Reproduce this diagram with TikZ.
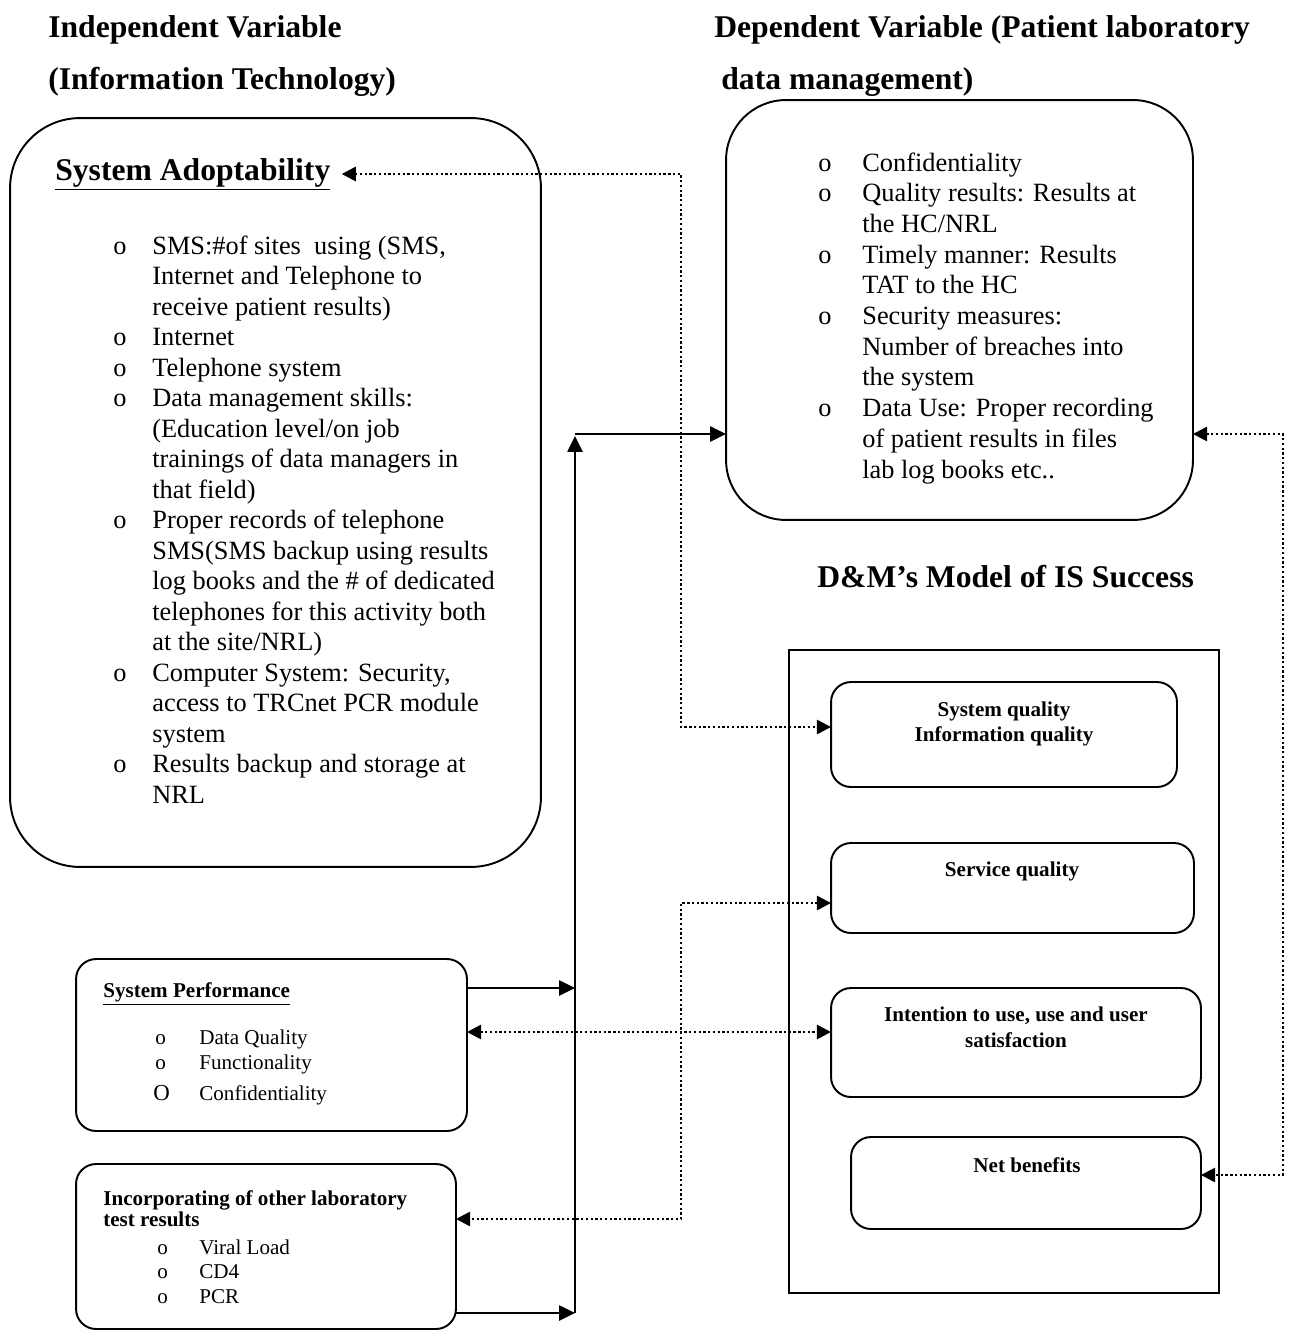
\documentclass[tikz,border=0pt]{standalone}
\usepackage{fontspec}
\setmainfont{Liberation Serif}
\usetikzlibrary{arrows.meta,calc}
\begin{document}
\begin{tikzpicture}[x=0.02cm,y=-0.02cm,
  box/.style={draw, line width=1.1pt, inner sep=0pt, outer sep=0pt},
  body/.style={font=\fontsize{15}{18}\selectfont, anchor=base west, inner sep=0pt},
  small/.style={font=\fontsize{12}{14}\selectfont, anchor=base west, inner sep=0pt},
  smallbold/.style={font=\bfseries\fontsize{12}{14}\selectfont, anchor=base west, inner sep=0pt},
  inner/.style={font=\bfseries\fontsize{12}{14}\selectfont, anchor=base, inner sep=0pt},
  ttl/.style={font=\bfseries\fontsize{18}{22}\selectfont, anchor=base west, inner sep=0pt},
  conn/.style={line width=1.3pt, -{Triangle[length=9pt,width=8.5pt]}},
  dotline/.style={line width=1.4pt, dash pattern=on 1.3pt off 1.4pt,
     {Triangle[length=8pt,width=8pt]}-{Triangle[length=8pt,width=8pt]}},
]
\useasboundingbox (0,0) rectangle (1299,1342);

% titles
\node[ttl] (t1) at (48,37) {Independent Variable};
\node[ttl] (t2) at (48,89) {(Information Technology)};
\node[ttl] (t3) at (714,37) {Dependent Variable (Patient laboratory};
\node[ttl] (t4) at (721,89) {data management)};
\node[ttl] (t5) at (817,587) {D\&M’s Model of IS Success};

% boxes
\node[box, rounded corners=1.4cm, minimum width=10.62cm, minimum height=14.98cm] (adopt) at (275.5,492.5) {};
\node[box, rounded corners=1.2cm, minimum width=9.34cm, minimum height=8.4cm] (dep) at (959.5,310) {};
\node[box, minimum width=8.6cm, minimum height=12.86cm] (dm) at (1004,971.5) {};
\node[box, rounded corners=0.4cm, minimum width=6.92cm, minimum height=2.1cm] (sq) at (1004,734.5) {};
\node[box, rounded corners=0.4cm, minimum width=7.26cm, minimum height=1.8cm] (svq) at (1012.5,888) {};
\node[box, rounded corners=0.4cm, minimum width=7.4cm, minimum height=2.18cm] (int) at (1016,1042.5) {};
\node[box, rounded corners=0.4cm, minimum width=7.0cm, minimum height=1.84cm] (net) at (1026,1183) {};
\node[box, rounded corners=0.4cm, minimum width=7.82cm, minimum height=3.44cm] (perf) at (271.5,1045) {};
\node[box, rounded corners=0.4cm, minimum width=7.6cm, minimum height=3.3cm] (inc) at (266,1246.5) {};

% System Adoptability content
\node[ttl] (adt) at (55,180) {\underline{System Adoptability}};
\node[body] (ab1) at (113,254) {o};
\node[body] (a1) at (152,254) {SMS:\#of sites\ \ using (SMS,};
\node[body] (a2) at (152,284.5) {Internet and Telephone to};
\node[body] (a3) at (152,315) {receive patient results)};
\node[body] (ab2) at (113,345.5) {o};
\node[body] (a4) at (152,345.5) {Internet};
\node[body] (ab3) at (113,376) {o};
\node[body] (a5) at (152,376) {Telephone system};
\node[body] (ab4) at (113,406.5) {o};
\node[body] (a6) at (152,406.5) {Data management skills:};
\node[body] (a7) at (152,437) {(Education level/on job};
\node[body] (a8) at (152,467.5) {trainings of data managers in};
\node[body] (a9) at (152,498) {that field)};
\node[body] (ab5) at (113,528.5) {o};
\node[body] (a10) at (152,528.5) {Proper records of telephone};
\node[body] (a11) at (152,559) {SMS(SMS backup using results};
\node[body] (a12) at (152,589.5) {log books and the \# of dedicated};
\node[body] (a13) at (152,620) {telephones for this activity both};
\node[body] (a14) at (152,650.5) {at the site/NRL)};
\node[body] (ab6) at (113,681) {o};
\node[body] (a15) at (152,681) {Computer System: Security,};
\node[body] (a16) at (152,711.5) {access to TRCnet PCR module};
\node[body] (a17) at (152,742) {system};
\node[body] (ab7) at (113,772.5) {o};
\node[body] (a18) at (152,772.5) {Results backup and storage at};
\node[body] (a19) at (152,803) {NRL};

% Dependent box content
\node[body] (db1) at (818,171) {o};
\node[body] (d1) at (862,171) {Confidentiality};
\node[body] (db2) at (818,201.7) {o};
\node[body] (d2) at (862,201.7) {Quality results: Results at};
\node[body] (d3) at (862,232.4) {the HC/NRL};
\node[body] (db3) at (818,263.1) {o};
\node[body] (d4) at (862,263.1) {Timely manner: Results};
\node[body] (d5) at (862,293.8) {TAT to the HC};
\node[body] (db4) at (818,324.5) {o};
\node[body] (d6) at (862,324.5) {Security measures:};
\node[body] (d7) at (862,355.2) {Number of breaches into};
\node[body] (d8) at (862,385.9) {the system};
\node[body] (db5) at (818,416.6) {o};
\node[body] (d9) at (862,416.6) {Data Use: Proper recording};
\node[body] (d10) at (862,447.3) {of patient results in files};
\node[body] (d11) at (862,478) {lab log books etc..};

% D&M inner texts
\node[inner] (sq1) at (1004,716) {System quality};
\node[inner] (sq2) at (1004,741) {Information quality};
\node[inner] (svq1) at (1012,876) {Service quality};
\node[inner] (int1) at (1016,1021) {Intention to use, use and user};
\node[inner] (int2) at (1016,1047) {satisfaction};
\node[inner] (net1) at (1027,1172) {Net benefits};

% System Performance content
\node[smallbold] (p0) at (103,997) {\underline{System Performance}};
\node[small] (pb1) at (155,1044) {o};
\node[small] (p1) at (199,1044) {Data Quality};
\node[small] (pb2) at (155,1069) {o};
\node[small] (p2) at (199,1069) {Functionality};
\node[small, font=\fontsize{13}{14}\selectfont] (pb3) at (153,1100) {O};
\node[small] (p3) at (199,1100) {Confidentiality};

% Incorporating content
\node[smallbold] (i0) at (103,1205) {Incorporating of other laboratory};
\node[smallbold] (i1) at (103,1226) {test results};
\node[small] (ib1) at (157,1254) {o};
\node[small] (i2) at (199,1254) {Viral Load};
\node[small] (ib2) at (157,1278) {o};
\node[small] (i3) at (199,1278) {CD4};
\node[small] (ib3) at (157,1303) {o};
\node[small] (i4) at (199,1303) {PCR};

% helper coordinates
\coordinate (vb) at (575,1313);
\coordinate (vt) at (575,434);
\coordinate (vtt) at (575,436);
\coordinate (y174) at (0,174);
\coordinate (y727) at (0,727);
\coordinate (y988) at (0,988);
\coordinate (y1032) at (0,1032);
\coordinate (y903) at (0,903);
\coordinate (y1219) at (0,1219);
\coordinate (y434) at (0,434);
\coordinate (y1175) at (0,1175);
\coordinate (c1) at (681,174);
\coordinate (c2) at (681,727);
\coordinate (c3) at (681,903);
\coordinate (c4) at (681,1219);
\coordinate (c5) at (1283,434);
\coordinate (c6) at (1283,1175);

% solid connectors
\draw[conn] (vb) -- (vtt);
\draw[conn] (vt) -- (vt -| dep.west);
\draw[conn] (perf.east |- y988) -- (vb |- y988);
\draw[conn] (inc.east |- vb) -- (vb);

% dotted connectors
\draw[dotline] ($(adt.east |- y174)+(11,0)$) -- (c1) -- (c2) -- (sq.west |- y727);
\draw[dotline] (perf.east |- y1032) -- (int.west |- y1032);
\draw[dotline] (svq.west |- y903) -- (c3) -- (c4) -- (inc.east |- y1219);
\draw[dotline] (dep.east |- y434) -- (c5) -- (c6) -- (net.east |- y1175);
\end{tikzpicture}
\end{document}
